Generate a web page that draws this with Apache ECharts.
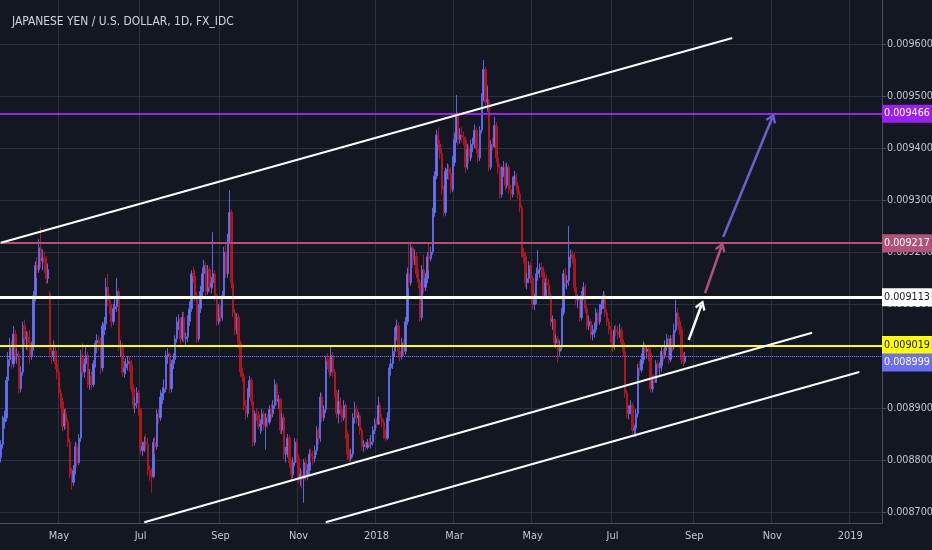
<!DOCTYPE html>
<html><head><meta charset="utf-8">
<script src="https://cdn.jsdelivr.net/npm/echarts@6/dist/echarts.min.js"></script>
<style>html,body{margin:0;padding:0;background:#131722}#c{width:932px;height:550px}</style>
</head><body><div id="c"></div>
<script>
// Prices are in micro units: 9466 means 0.009466 (JPY/USD)
const title = 'JAPANESE YEN / U.S. DOLLAR, 1D, FX_IDC';
const firstDay = '2017-03-16';
const dayCount = 486; // weekday slots shown on the axis (data + blank future)
const monthNames = ['Jan','Feb','Mar','Apr','May','Jun','Jul','Aug','Sep','Oct','Nov','Dec'];

// daily candles [open, close, low, high], 2017-03-16 .. 2017-12-29
const ohlc2017 = [
[8805,8830,8795,8838],[8830,8873,8822,8885],[8873,8881,8860,8895],[8881,8953,8874,8960],[8953,8993,8945,9008],
[8993,9017,8980,9035],[9017,8985,8975,9030],[8985,9042,8978,9058],[9042,9001,8990,9050],[9001,9003,8985,9015],
[9003,8937,8928,9010],[8937,8969,8930,8980],[8969,9058,8962,9066],[9058,9033,9020,9070],[9033,9036,9012,9048],
[9036,9025,9010,9045],[9025,9001,8985,9050],[9001,9017,8993,9028],[9017,9116,9010,9125],[9116,9174,9105,9182],
[9174,9166,9150,9190],[9166,9208,9160,9225],[9208,9183,9170,9248],[9183,9188,9165,9205],[9188,9180,9160,9200],
[9180,9149,9138,9192],[9149,9166,9140,9178],[9120,9009,9000,9125],[9009,9001,8985,9022],[9001,9009,8990,9030],
[9009,8985,8975,9020],[8985,8969,8955,8998],[8969,8929,8920,8975],[8929,8913,8900,8937],[8913,8865,8855,8920],
[8865,8889,8858,8898],[8889,8873,8860,8900],[8873,8834,8825,8880],[8834,8772,8765,8840],[8772,8757,8743,8785],
[8757,8780,8750,8790],[8780,8826,8772,8835],[8826,8795,8786,8832],[8795,8842,8790,8850],[8842,9001,8835,9012],
[9001,8969,8960,9025],[8969,8985,8958,8995],[8985,9001,8975,9020],[9001,8945,8938,9008],[8945,8961,8935,8975],
[8961,8945,8935,8970],[8945,8985,8940,8992],[8985,9025,8978,9030],[9025,9030,9005,9042],[9030,9022,9010,9040],
[9022,8977,8965,9035],[8977,9058,8970,9066],[9058,9062,9040,9075],[9062,9132,9050,9150],[9132,9107,9095,9158],
[9107,9091,9080,9118],[9091,9066,9055,9100],[9066,9091,9060,9100],[9091,9095,9075,9110],[9095,9124,9085,9150],
[9124,9017,9010,9130],[9017,9020,9000,9030],[9020,8969,8960,9025],[8969,8977,8958,8990],[8977,8985,8965,8995],
[8985,8990,8972,9000],[8990,8983,8970,8998],[8983,8937,8930,8992],[8937,8905,8898,8945],[8905,8909,8890,8920],
[8909,8929,8900,8940],[8929,8897,8885,8935],[8897,8818,8810,8900],[8818,8826,8808,8835],[8826,8834,8815,8845],
[8834,8830,8820,8850],[8830,8780,8770,8842],[8780,8772,8760,8790],[8772,8768,8737,8785],[8768,8834,8765,8842],
[8834,8826,8812,8845],[8826,8889,8820,8897],[8889,8881,8870,8898],[8881,8921,8875,8935],[8921,8929,8908,8940],
[8929,8937,8915,8955],[8937,9001,8930,9010],[9001,9004,8985,9015],[9004,8937,8928,9008],[8937,8985,8930,8992],
[8985,8993,8975,9005],[8993,9033,8985,9040],[9033,9066,9025,9075],[9066,9070,9050,9080],[9070,9033,9022,9075],
[9033,9074,9028,9085],[9074,9033,9025,9085],[9033,9037,9020,9045],[9037,9066,9027,9078],[9066,9091,9058,9105],
[9091,9158,9085,9165],[9158,9154,9140,9172],[9154,9116,9105,9165],[9116,9033,9025,9122],[9033,9091,9028,9100],
[9091,9124,9083,9135],[9124,9158,9115,9170],[9158,9174,9145,9185],[9174,9124,9115,9180],[9124,9166,9118,9175],
[9166,9132,9122,9172],[9132,9141,9120,9152],[9141,9158,9130,9238],[9158,9116,9105,9165],[9116,9066,9058,9120],
[9066,9091,9060,9100],[9091,9074,9065,9098],[9074,9116,9068,9125],[9116,9200,9110,9210],[9200,9158,9150,9215],
[9158,9225,9150,9235],[9225,9276,9218,9319],[9276,9141,9130,9282],[9141,9083,9075,9148],[9083,9050,9040,9090],
[9050,9074,9042,9082],[9074,9025,9015,9080],[9025,8969,8960,9030],[8969,8961,8950,8978],[8961,8905,8895,8968],
[8905,8889,8878,8915],[8889,8929,8882,8938],[8929,8953,8920,8962],[8953,8913,8905,8958],[8913,8834,8825,8920],
[8834,8889,8828,8895],[8889,8885,8875,8900],[8885,8865,8858,8895],[8865,8869,8850,8878],[8869,8889,8855,8898],
[8889,8865,8857,8895],[8865,8881,8820,8890],[8881,8873,8862,8888],[8873,8897,8868,8905],[8897,8889,8878,8908],
[8889,8905,8882,8915],[8905,8945,8898,8955],[8945,8913,8905,8950],[8913,8917,8898,8925],[8917,8857,8850,8920],
[8857,8881,8850,8890],[8881,8811,8802,8888],[8811,8815,8795,8825],[8815,8842,8805,8850],[8842,8795,8785,8848],
[8795,8772,8760,8800],[8772,8795,8765,8805],[8795,8834,8788,8842],[8834,8803,8795,8840],[8803,8764,8755,8810],
[8764,8772,8750,8785],[8772,8764,8745,8780],[8764,8795,8718,8802],[8795,8772,8760,8805],[8772,8780,8762,8792],
[8780,8811,8772,8820],[8811,8807,8795,8822],[8807,8803,8790,8818],[8803,8818,8795,8828],[8818,8857,8810,8865],
[8857,8842,8830,8862],[8842,8921,8835,8930],[8921,8881,8872,8928],[8881,8897,8875,8905],[8897,8993,8890,9000],
[8993,8989,8975,9005],[8989,8969,8958,9000],[8969,9001,8962,9020],[9001,8969,8960,9008],[8969,8929,8920,8975],
[8929,8889,8880,8935],[8889,8913,8870,8935],[8913,8897,8885,8920],[8897,8881,8872,8905],[8881,8905,8875,8915],
[8905,8850,8840,8910],[8850,8811,8800,8855],[8811,8803,8795,8820],[8803,8811,8798,8822],[8811,8881,8805,8890],
[8881,8897,8870,8912],[8897,8881,8870,8905],[8881,8885,8865,8892],[8885,8857,8848,8888],[8857,8826,8818,8862],
[8826,8830,8815,8838],[8830,8824,8818,8835],[8824,8834,8820,8840],[8834,8830,8825,8842],[8830,8834,8822,8848],
[8834,8857,8828,8865],[8857,8873,8850,8880]
];
// daily candles [open, close, low, high], 2018-01-01 .. 2018-08-27
const ohlc2018 = [
[8873,8869,8862,8880],[8869,8905,8868,8922],[8905,8881,8872,8910],[8881,8873,8862,8888],[8873,8850,8840,8878],
[8850,8842,8835,8858],[8842,8881,8838,8892],[8881,8977,8875,8985],[8977,8985,8962,8995],[8985,9009,8975,9018],
[9009,9042,9000,9055],[9042,9058,9030,9070],[9058,9009,9000,9065],[9009,9001,8990,9020],[9001,9025,8993,9035],
[9025,9009,9000,9032],[9009,9066,9002,9075],[9066,9158,9060,9170],[9158,9141,9130,9220],[9141,9208,9135,9215],
[9208,9183,9170,9212],[9183,9191,9175,9205],[9191,9158,9150,9200],[9158,9141,9130,9166],[9141,9074,9065,9148],
[9074,9166,9068,9175],[9166,9132,9120,9195],[9132,9149,9125,9160],[9149,9191,9140,9200],[9191,9187,9165,9215],
[9187,9200,9182,9210],[9200,9276,9195,9285],[9276,9346,9268,9355],[9346,9425,9340,9435],[9425,9407,9395,9440],
[9407,9390,9378,9415],[9390,9320,9310,9398],[9320,9276,9268,9328],[9276,9355,9270,9362],[9355,9359,9340,9370],
[9359,9351,9338,9368],[9351,9320,9312,9362],[9320,9372,9315,9385],[9372,9416,9365,9430],[9416,9461,9410,9502],
[9461,9416,9405,9470],[9416,9425,9408,9438],[9425,9421,9410,9440],[9421,9416,9405,9432],[9416,9363,9352,9422],
[9363,9398,9358,9408],[9398,9381,9370,9405],[9381,9407,9375,9416],[9407,9411,9392,9420],[9411,9434,9400,9445],
[9434,9398,9390,9440],[9398,9381,9372,9405],[9381,9434,9375,9442],[9434,9497,9428,9505],[9497,9551,9490,9569],
[9551,9488,9478,9556],[9488,9492,9470,9520],[9492,9363,9355,9495],[9363,9407,9358,9415],[9407,9403,9395,9420],
[9403,9443,9400,9460],[9443,9381,9372,9450],[9381,9363,9350,9398],[9363,9311,9302,9370],[9311,9355,9305,9365],
[9355,9363,9345,9375],[9363,9328,9318,9370],[9328,9363,9322,9372],[9363,9320,9312,9368],[9320,9311,9300,9330],
[9311,9337,9305,9345],[9337,9346,9328,9356],[9346,9328,9318,9352],[9328,9311,9302,9335],[9311,9285,9276,9318],
[9285,9200,9190,9290],[9200,9191,9178,9208],[9191,9141,9132,9198],[9141,9149,9128,9160],[9149,9174,9140,9182],
[9174,9149,9140,9180],[9149,9099,9090,9155],[9099,9107,9088,9120],[9107,9158,9100,9170],[9158,9166,9145,9204],
[9166,9170,9150,9178],[9170,9162,9152,9180],[9162,9116,9108,9172],[9116,9141,9110,9150],[9141,9137,9128,9155],
[9137,9116,9108,9148],[9116,9066,9058,9122],[9066,9070,9050,9078],[9070,9025,9018,9072],[9025,9033,9015,9042],
[9033,9009,8987,9038],[9009,9017,9000,9030],[9017,9083,9010,9092],[9083,9158,9078,9166],[9158,9141,9132,9170],
[9141,9145,9128,9155],[9145,9191,9135,9250],[9191,9195,9170,9205],[9195,9187,9178,9202],[9187,9132,9122,9198],
[9132,9107,9098,9140],[9107,9111,9092,9118],[9111,9074,9065,9112],[9074,9116,9068,9125],[9116,9132,9108,9142],
[9132,9091,9082,9138],[9091,9058,9050,9098],[9058,9066,9050,9078],[9066,9042,9033,9072],[9042,9046,9030,9060],
[9046,9050,9035,9065],[9050,9083,9045,9092],[9083,9066,9058,9090],[9066,9091,9060,9100],[9091,9099,9080,9108],
[9099,9116,9090,9125],[9116,9083,9075,9122],[9083,9066,9058,9090],[9066,9050,9042,9072],[9050,9033,9025,9058],
[9033,9017,9008,9040],[9017,9050,9012,9058],[9050,9046,9038,9060],[9046,9042,9032,9058],[9042,9050,9035,9062],
[9050,9025,9018,9055],[9025,9009,9000,9032],[9009,8929,8920,9015],[8929,8889,8880,8935],[8889,8897,8878,8905],
[8897,8905,8888,8915],[8905,8857,8850,8910],[8857,8861,8845,8868],[8861,8889,8844,8898],[8889,8977,8882,8985],
[8977,8973,8962,8990],[8973,8993,8968,9005],[8993,9017,8985,9028],[9017,9009,8998,9025],[9009,9013,8995,9020],
[9013,9005,8990,9018],[9005,8937,8930,9015],[8937,8953,8930,8962],[8953,8949,8940,8965],[8949,8985,8948,8992],
[8985,8977,8968,8992],[8977,8981,8962,8988],[8981,9009,8970,9018],[9009,9001,8990,9015],[9001,9017,8995,9030],
[9017,9033,9010,9042],[9033,8993,8985,9040],[8993,9033,8988,9040],[9033,9017,9008,9042],[9017,9050,9012,9062],
[9050,9083,9045,9108],[9083,9066,9058,9092],[9066,9050,9040,9075],[9050,8993,8985,9058],[8993,8989,8980,9005],
[8989,8999,8985,9008]
];

// horizontal levels: [price, line colour, line width, line type, label box colour, label text colour, label shift]
const levels = [
  [9466, '#9c1ff2', 2, 'solid', '#9c1ff2', '#ffffff', 0],
  [9217, '#b0527a', 2, 'solid', '#b0527a', '#ffffff', 0],
  [9113, '#ffffff', 3, 'solid', '#ffffff', '#131722', 0],
  [9019, '#ffff00', 2, 'solid', '#ffff00', '#131722', -1],
  [8999, '#6c6ff2', 1, 'dotted', '#6c6ff2', '#ffffff', 6]
];
// channel trend lines: [startDate, startPrice, endDate, endPrice]
const trendLines = [
  ['2017-03-16', 9217.6, '2018-10-02', 9611.5],
  ['2017-07-05', 8680.4, '2018-12-03', 9044.6],
  ['2017-11-22', 8680.4, '2019-01-08', 8969.3]
];
// projection arrows: [startDate, startPrice, endDate, endPrice, colour]
const arrows = [
  ['2018-08-29', 9031, '2018-09-07', 9098, '#ffffff'],
  ['2018-09-11', 9121, '2018-09-24', 9210, '#b0527a'],
  ['2018-09-25', 9229, '2018-11-01', 9458, '#6e5fd0']
];

// weekday calendar for the category axis
const dates = [];
(function () {
  const d = new Date(firstDay + 'T00:00:00Z');
  while (dates.length < dayCount) {
    const wd = d.getUTCDay();
    if (wd !== 0 && wd !== 6) dates.push(d.toISOString().slice(0, 10));
    d.setUTCDate(d.getUTCDate() + 1);
  }
})();
const labelSet = new Set();
dates.forEach((s, i) => {
  if (i === 0) return;
  const m = +s.slice(5, 7) - 1, pm = +dates[i - 1].slice(5, 7) - 1;
  if (m !== pm && m % 2 === 0) labelSet.add(i);
});
const labelInt = (i) => labelSet.has(i);
const fmtDate = (s) => { const m = +s.slice(5, 7) - 1; return m === 0 ? s.slice(0, 4) : monthNames[m]; };
const fmtPrice = (v) => (v / 1e6).toFixed(6);

// pick a condensed font that is installed, and size text to the reference widths
const ctx = document.createElement('canvas').getContext('2d');
function hasFont(name) {
  const s = 'abcdefghijklmnopqrstuvwxyz0123456789ABCDEFGHIJKLMNOPQRSTUVWXYZ';
  ctx.font = '40px monospace'; const a = ctx.measureText(s).width;
  ctx.font = '40px "' + name + '", monospace'; const b = ctx.measureText(s).width;
  return Math.abs(a - b) > 0.5;
}
const FAMILY = hasFont('Liberation Sans Narrow') ? '"Liberation Sans Narrow"'
             : (hasFont('DejaVu Sans Condensed') ? '"DejaVu Sans Condensed"' : '"Liberation Sans"');
function sizeFor(text, target, maxSize) {
  ctx.font = '100px ' + FAMILY;
  return Math.min(maxSize, 100 * target / ctx.measureText(text).width);
}
const titleSize = sizeFor(title, 222, 14);
const priceSize = sizeFor('0.009600', 46, 12.5);
const dateSize = sizeFor('2019', 25, 12.5);

const candles = ohlc2017.concat(ohlc2018);
const chevron = 'path://M5,0 L10,7.2 L8.5,8.6 L5,3.6 L1.5,8.6 L0,7.2 Z';

const markData = [];
levels.forEach(l => {
  markData.push({
    yAxis: l[0],
    lineStyle: { color: l[1], width: l[2], type: l[3], opacity: 1 },
    label: { show: true, position: 'end', distance: 0, offset: [0, l[6]], formatter: () => fmtPrice(l[0]),
      backgroundColor: l[4], color: l[5], padding: [4, 2, 3, 2], fontSize: priceSize, fontFamily: FAMILY }
  });
});
trendLines.forEach(t => {
  const st = { lineStyle: { color: '#ffffff', width: 2, type: 'solid', opacity: 1 }, label: { show: false } };
  markData.push([Object.assign({ coord: [t[0], t[1]], symbol: 'none' }, st), Object.assign({ coord: [t[2], t[3]], symbol: 'none' }, st)]);
});
arrows.forEach(a => {
  const st = { lineStyle: { color: a[4], width: 2.5, type: 'solid', opacity: 1 }, label: { show: false } };
  markData.push([Object.assign({ coord: [a[0], a[1]], symbol: 'none' }, st),
                 Object.assign({ coord: [a[2], a[3]], symbol: chevron, symbolSize: [11, 10] }, st)]);
});

const chart = echarts.init(document.getElementById('c'));
chart.setOption({
  backgroundColor: '#131722',
  animation: false,
  title: { text: title, left: 7, top: 11,
    textStyle: { color: '#d1d4dc', fontSize: titleSize, fontWeight: 'normal', fontFamily: FAMILY } },
  grid: { left: 0, right: 50, top: 0, bottom: 27, outerBoundsMode: 'none', containLabel: false },
  xAxis: {
    type: 'category', data: dates, boundaryGap: true,
    axisLine: { lineStyle: { color: '#4a4e5a' } },
    axisTick: { interval: labelInt, alignWithLabel: true, length: 4, lineStyle: { color: '#4a4e5a' } },
    axisLabel: { interval: labelInt, formatter: fmtDate, color: '#c3c6ce', fontSize: dateSize, margin: 8, fontFamily: FAMILY },
    splitLine: { show: true, interval: labelInt, lineStyle: { color: '#2c303b' } }
  },
  yAxis: {
    type: 'value', position: 'right', min: 8678.8, max: 9684.6, splitNumber: 10,
    axisLine: { show: true, lineStyle: { color: '#4a4e5a' } },
    axisTick: { show: true, length: 4, lineStyle: { color: '#4a4e5a' } },
    axisLabel: { formatter: fmtPrice, showMinLabel: false, showMaxLabel: false, color: '#c3c6ce',
      fontSize: priceSize, margin: 5, fontFamily: FAMILY },
    splitLine: { show: true, showMinLine: false, showMaxLine: false, lineStyle: { color: '#2c303b' } }
  },
  series: [{
    type: 'candlestick', data: candles, barWidth: '100%',
    itemStyle: { color: '#7072f2', color0: '#a8141c', borderColor: '#5a68e6', borderColor0: '#b0161e', borderWidth: 1 },
    markLine: { silent: true, symbol: ['none', 'none'], animation: false, data: markData }
  }]
});
</script></body></html>
